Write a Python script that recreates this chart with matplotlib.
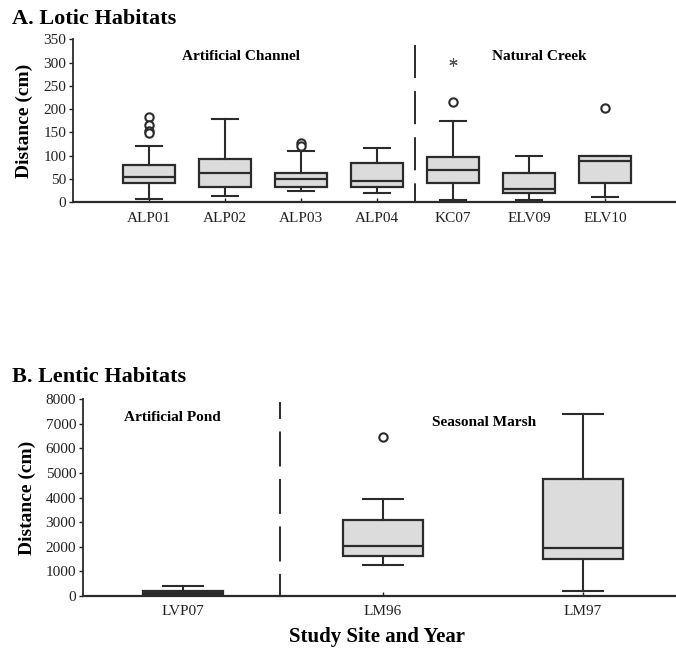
import matplotlib
matplotlib.use("Agg")
import matplotlib.pyplot as plt

plt.rcParams['font.family'] = ['Liberation Serif', 'DejaVu Serif']
plt.rcParams['lines.scale_dashes'] = False

# A. lotic habitats (distance, cm)
lotic_sites = ["ALP01", "ALP02", "ALP03", "ALP04", "KC07", "ELV09", "ELV10"]
lotic_q1 = [41, 33, 32, 32, 41.5, 18.5, 41.5]
lotic_med = [53, 62, 50, 46, 69, 29, 89]
lotic_q3 = [79, 92, 61.5, 84, 97, 62, 99]
lotic_lo = [7, 13.5, 23.5, 19, 3.5, 3.5, 11]
lotic_hi = [121.5, 178, 109, 117, 175, 99.5, 100]
lotic_fliers = [[182, 166, 152, 148], [], [128, 121], [], [215], [], [202]]
lotic_extreme = [None, None, None, None, 302, None, None]

# B. lentic habitats (distance, cm)
lentic_sites = ["LVP07", "LM96", "LM97"]
lentic_q1 = [55, 1605, 1480]
lentic_med = [110, 2010, 1930]
lentic_q3 = [190, 3070, 4765]
lentic_lo = [0, 1265, 190]
lentic_hi = [395, 3925, 7400]
lentic_fliers = [[], [6465], []]


def stats(sites, q1, med, q3, lo, hi, fliers):
    return [dict(label=s, q1=a, med=m, q3=b, whislo=l, whishi=h, fliers=f)
            for s, a, m, b, l, h, f in zip(sites, q1, med, q3, lo, hi, fliers)]


box_style = dict(patch_artist=True,
                 boxprops=dict(facecolor="#dcdcdc", edgecolor="#2b2b2b", linewidth=1.6),
                 medianprops=dict(color="#2b2b2b", linewidth=1.6),
                 whiskerprops=dict(color="#2b2b2b", linewidth=1.5),
                 capprops=dict(color="#2b2b2b", linewidth=1.5),
                 flierprops=dict(marker="o", markersize=6, markerfacecolor="white",
                                 markeredgecolor="#2b2b2b", markeredgewidth=1.5))


def style_axis(ax):
    ax.spines['top'].set_visible(False)
    ax.spines['right'].set_visible(False)
    ax.spines['left'].set_linewidth(1.3)
    ax.spines['bottom'].set_linewidth(1.6)
    ax.spines['left'].set_color("#2b2b2b")
    ax.spines['bottom'].set_color("#2b2b2b")
    ax.tick_params(axis='y', direction='out', length=3, width=1, labelsize=11,
                   colors="#222222", pad=2)
    ax.tick_params(axis='x', direction='in', length=3, width=1, labelsize=11,
                   colors="#222222", pad=7)


fig = plt.figure(figsize=(6.76, 6.51), dpi=100)

# ---- panel A
ax1 = fig.add_axes([0.108, 0.6897, 0.892, 0.2499])
pos1 = list(range(1, len(lotic_sites) + 1))
ax1.bxp(stats(lotic_sites, lotic_q1, lotic_med, lotic_q3, lotic_lo, lotic_hi, lotic_fliers),
        positions=pos1, widths=0.68, **box_style)
for p, v in zip(pos1, lotic_extreme):
    if v is not None:
        ax1.plot(p, v, marker=(6, 2, 0), markersize=6, color="#555555",
                 markeredgewidth=0.8, linestyle="none")
ax1.plot([4.5, 4.5], [338, 0], color="#2b2b2b", linewidth=1.4,
         linestyle=(0, (23.8, 9.4)))
ax1.set_xlim(0, 7.93)
ax1.set_ylim(0, 350)
ax1.set_yticks(range(0, 351, 50))
ax1.text(2.21, 312, "Artificial Channel", ha="center", va="center",
         fontsize=11, fontweight="bold")
ax1.text(6.13, 314, "Natural Creek", ha="center", va="center",
         fontsize=11, fontweight="bold")
style_axis(ax1)
ax1.set_ylabel("Distance (cm)", fontsize=14, fontweight="bold")
ax1.yaxis.set_label_coords(-0.066, 0.5)

# ---- panel B
ax2 = fig.add_axes([0.1228, 0.0849, 0.8772, 0.3017])
pos2 = list(range(1, len(lentic_sites) + 1))
ax2.bxp(stats(lentic_sites, lentic_q1, lentic_med, lentic_q3, lentic_lo, lentic_hi, lentic_fliers),
        positions=pos2, widths=0.4, **box_style)
ax2.plot([1.485, 1.485], [7900, 0], color="#2b2b2b", linewidth=1.4,
         linestyle=(13.0, (25.2, 9.0)))
ax2.set_xlim(0.5, 3.465)
ax2.set_ylim(0, 8000)
ax2.set_yticks(range(0, 8001, 1000))
ax2.text(0.945, 7240, "Artificial Pond", ha="center", va="center",
         fontsize=11, fontweight="bold")
ax2.text(2.505, 7075, "Seasonal Marsh", ha="center", va="center",
         fontsize=11, fontweight="bold")
style_axis(ax2)
ax2.set_ylabel("Distance (cm)", fontsize=14, fontweight="bold")
ax2.yaxis.set_label_coords(-0.079, 0.5)

fig.text(12 / 676, 1 - 19 / 651, "A. Lotic Habitats", fontsize=16,
         fontweight="bold", ha="left", va="center")
fig.text(12 / 676, 1 - 377 / 651, "B. Lentic Habitats", fontsize=16,
         fontweight="bold", ha="left", va="center")
fig.text(377 / 676, 1 - 637 / 651, "Study Site and Year", fontsize=15,
         fontweight="bold", ha="center", va="center")

fig.savefig("out.png", dpi=100)
